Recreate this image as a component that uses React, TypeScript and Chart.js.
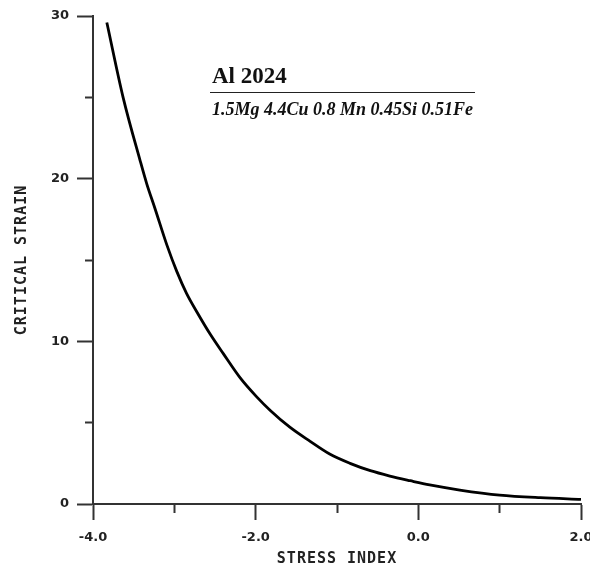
import React, { useEffect, useRef } from 'react';
import { Chart, registerables } from 'chart.js';

Chart.register(...registerables);

// Data
const stressIndex = [
  -3.83, -3.63, -3.42, -3.34, -3.24, -3.09, -2.97, -2.85, -2.71, -2.56, -2.4, -2.19,
  -1.99, -1.82, -1.58, -1.33, -1.09, -0.84, -0.59, -0.35, -0.1, 0.14, 0.51, 1.0, 1.5, 2.0,
];
const criticalStrain = [
  29.6, 25.0, 21.1, 19.7, 18.2, 15.9, 14.3, 12.95, 11.7, 10.45, 9.26, 7.75,
  6.6, 5.75, 4.72, 3.85, 3.07, 2.5, 2.05, 1.72, 1.43, 1.17, 0.86, 0.55, 0.39, 0.29,
];

const xMajorTicks = [-4, -2, 0, 2];
const xTickLabels = ['-4.0', '-2.0', '0.0', '2.0'];
const yMajorTicks = [0, 10, 20, 30];
const yTickLabels = ['0', '10', '20', '30'];

const chartTitle = 'Al 2024';
const chartSubtitle = '1.5Mg 4.4Cu 0.8 Mn 0.45Si 0.51Fe';
const xAxisTitle = 'STRESS INDEX';
const yAxisTitle = 'CRITICAL STRAIN';

const findIdx = (arr: number[], v: number) => arr.findIndex((a) => Math.abs(a - v) < 1e-6);

const patchTitle = (s: any, spacing: string) => {
  if (s.__patchedTitle) return;
  s.__patchedTitle = true;
  const orig = s.drawTitle;
  s.drawTitle = function (...args: any[]) {
    const ctx = this.ctx;
    ctx.save();
    (ctx as any).letterSpacing = spacing;
    orig.apply(this, args);
    ctx.restore();
  };
};

const labelPlugin = {
  id: 'alloyLabel',
  afterDraw(chart: any) {
    const ctx = chart.ctx;
    ctx.save();
    ctx.fillStyle = '#111';
    ctx.textBaseline = 'alphabetic';
    ctx.textAlign = 'left';
    ctx.font = 'bold 23px "Liberation Serif"';
    ctx.fillText(chartTitle, 212, 83);
    ctx.strokeStyle = '#222';
    ctx.lineWidth = 1;
    ctx.beginPath();
    ctx.moveTo(210, 92.5);
    ctx.lineTo(475, 92.5);
    ctx.stroke();
    ctx.font = 'italic bold 18px "Liberation Serif"';
    ctx.fillText(chartSubtitle, 212, 115);
    ctx.restore();
  },
};

const tickFont = { family: 'DejaVu Sans', weight: 'bold' as const, size: 13 };
const titleFont = { family: 'DejaVu Sans Mono', weight: 'bold' as const, size: 15 };
const axisColor = '#333';

export default function App() {
  const ref = useRef<HTMLCanvasElement>(null);
  useEffect(() => {
    if (!ref.current) return;
    const chart = new Chart(ref.current, {
      type: 'line',
      data: {
        datasets: [
          {
            data: stressIndex.map((x, i) => ({ x, y: criticalStrain[i] })),
            borderColor: '#000',
            borderWidth: 2.8,
            pointRadius: 0,
            cubicInterpolationMode: 'monotone',
            fill: false,
          },
        ],
      },
      options: {
        responsive: false,
        animation: false,
        layout: { padding: { top: 16, right: 9, left: 0, bottom: 0 } },
        plugins: { legend: { display: false }, tooltip: { enabled: false } },
        scales: {
          x: {
            type: 'linear',
            position: 'bottom',
            min: -4,
            max: 2,
            afterFit: (s: any) => {
              s.height = 61;
              s.paddingLeft = 0;
              s.paddingRight = 0;
              patchTitle(s, '1px');
            },
            ticks: {
              stepSize: 1,
              autoSkip: false,
              maxRotation: 0,
              padding: 10,
              color: '#222',
              font: tickFont,
              callback: (v: any) => {
                const i = findIdx(xMajorTicks, Number(v));
                return i >= 0 ? xTickLabels[i] : '';
              },
            },
            grid: {
              drawOnChartArea: false,
              drawTicks: true,
              tickLength: 16,
              tickWidth: 2,
              tickColor: axisColor,
              tickBorderDash: (c: any) =>
                findIdx(xMajorTicks, c.tick?.value) >= 0 ? [] : [8, 100],
            },
            border: { display: true, color: axisColor, width: 2 },
            title: {
              display: true,
              text: xAxisTitle,
              color: '#222',
              font: titleFont,
              padding: { top: 0, bottom: -3 },
            },
          },
          y: {
            type: 'linear',
            position: 'left',
            min: 0,
            max: 30,
            afterFit: (s: any) => {
              s.width = 93;
              s.paddingTop = 0;
              s.paddingBottom = 0;
              patchTitle(s, '1px');
            },
            ticks: {
              stepSize: 5,
              autoSkip: false,
              padding: 8,
              color: '#222',
              font: tickFont,
              callback: (v: any) => {
                const i = findIdx(yMajorTicks, Number(v));
                return i >= 0 ? yTickLabels[i] : '';
              },
            },
            grid: {
              drawOnChartArea: false,
              drawTicks: true,
              tickLength: 16,
              tickWidth: 2,
              tickColor: axisColor,
              tickBorderDash: (c: any) =>
                findIdx(yMajorTicks, c.tick?.value) >= 0 ? [] : [0, 8, 8, 100],
            },
            border: { display: true, color: axisColor, width: 2 },
            title: {
              display: true,
              text: yAxisTitle,
              color: '#222',
              font: titleFont,
              padding: { top: 13, bottom: 0 },
            },
          },
        },
      },
      plugins: [labelPlugin],
    } as any);
    return () => chart.destroy();
  }, []);
  return (
    <div style={{ position: 'absolute', left: 0, top: 0, width: 590, height: 565, background: '#fff' }}>
      <canvas ref={ref} width={590} height={565} style={{ display: 'block' }} />
    </div>
  );
}
